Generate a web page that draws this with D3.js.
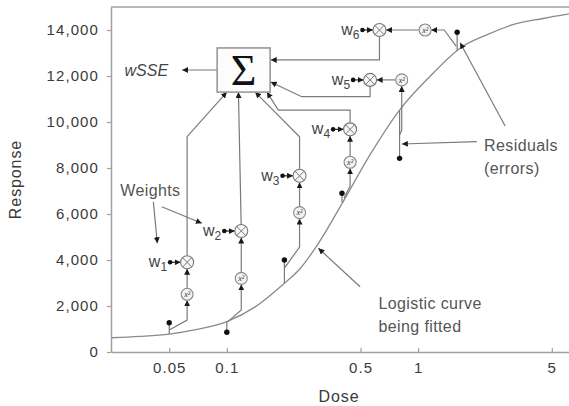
<!DOCTYPE html>
<html>
<head>
<meta charset="utf-8">
<script src="https://cdn.jsdelivr.net/npm/d3@7"></script>
<style>
  body { margin: 0; background: #fff; }
  svg { display: block; font-family: "Liberation Sans", Arial, sans-serif; }
</style>
</head>
<body>
<div id="chart"></div>
<script>
// observed points
const doses = [0.05, 0.1, 0.2, 0.4, 0.8, 1.6];
const responses = [1270, 860, 4000, 6900, 8420, 13900];
const fitted = [780, 1320, 3000, 6500, 10520, 13100]; // curve value under each point
const weightIds = ["1", "2", "3", "4", "5", "6"];

// logistic curve
const curveDoses = [0.025, 0.035, 0.05, 0.07, 0.1, 0.14, 0.2, 0.24, 0.3, 0.4, 0.56, 0.8, 1.15, 1.7, 2.3, 3.1, 4.5, 6.15];
const curveResponses = [620, 680, 780, 980, 1320, 1950, 2990, 3600, 4700, 6450, 8570, 10520, 11970, 13270, 13800, 14220, 14500, 14700];

const xTicks = [0.05, 0.1, 0.5, 1, 5];
const yTicks = [0, 2000, 4000, 6000, 8000, 10000, 12000, 14000];

// schematic of the weighted SSE, in dose / response units
const flows = [
  {branch: [[0.05, 960], [0.062, 1390]], sq: [0.062, 2510], mult: [0.062, 3900],
   link: [[0.062, 9360], [0.1, 11300]]},
  {branch: [[0.101, 1310], [0.119, 1830]], sq: [0.119, 3200], mult: [0.119, 5260],
   link: [[0.115, 11300]]},
  {branch: [[0.2, 3650], [0.24, 4560]], sq: [0.24, 6060], mult: [0.24, 7660],
   link: [[0.24, 9360], [0.1406, 11300]]},
  {branch: [[0.41, 6700], [0.441, 7220]], sq: [0.441, 8250], mult: [0.441, 9680],
   link: [[0.441, 10520], [0.186, 10520], [0.162, 11300]]},
  {branch: [[0.8, 9430], [0.821, 9650]], sq: [0.821, 11830], mult: [0.561, 11830],
   link: [[0.561, 11100], [0.2466, 11100], [0.1695, 11740]]},
  {branch: [[1.58, 13300], [1.37, 14000]], sq: [1.088, 14000], mult: [0.628, 14000],
   link: [[0.628, 12700], [0.1695, 12700]]}
];
const sumBox = {dose: [0.089, 0.1684], response: [11300, 13220]};

const width = 569, height = 406;
const x = d3.scaleLog().domain([0.0248, 6.15]).range([111, 569]);
const y = d3.scaleLinear().domain([0, 15000]).range([352, 7]);

const svg = d3.select("#chart").append("svg")
  .attr("width", width)
  .attr("height", height);

svg.append("defs").append("marker")
  .attr("id", "arrow")
  .attr("viewBox", "0 0 10 10")
  .attr("refX", 10).attr("refY", 5)
  .attr("markerWidth", 6).attr("markerHeight", 6)
  .attr("markerUnits", "userSpaceOnUse")
  .attr("orient", "auto")
  .append("path").attr("d", "M0,0L10,5L0,10z").attr("fill", "#1a1a1a");

const axisColor = "#a0a0a0";
const lineColor = "#7a7a7a";

// axes
const gy = svg.append("g")
  .attr("transform", "translate(111,0)")
  .call(d3.axisLeft(y).tickValues(yTicks).tickFormat(d3.format(",")).tickSize(4).tickSizeOuter(0).tickPadding(8));
const gx = svg.append("g")
  .attr("transform", "translate(0,352)")
  .call(d3.axisBottom(x).tickValues(xTicks).tickFormat(d => String(d)).tickSizeInner(-4).tickSizeOuter(0).tickPadding(10));

[gx, gy].forEach(g => {
  g.select(".domain").attr("stroke", axisColor).attr("stroke-width", 1.5);
  g.selectAll(".tick line").attr("stroke", axisColor).attr("stroke-width", 1.2);
  g.selectAll(".tick text")
    .attr("fill", "#3a3a3a")
    .style("font-size", "15px")
    .style("letter-spacing", "1.1px");
});

// top frame line
svg.append("line")
  .attr("x1", x.range()[0]).attr("x2", x.range()[1])
  .attr("y1", y.range()[1]).attr("y2", y.range()[1])
  .attr("stroke", axisColor).attr("stroke-width", 1.5);

svg.append("text")
  .attr("transform", `translate(15,${(y.range()[0] + y.range()[1]) / 2}) rotate(-90)`)
  .attr("text-anchor", "middle").attr("dy", "0.35em")
  .attr("fill", "#3a3a3a").style("font-size", "16px").style("letter-spacing", "0.9px")
  .text("Response");

svg.append("text")
  .attr("x", 339).attr("y", 396).attr("dy", "0.35em")
  .attr("text-anchor", "middle")
  .attr("fill", "#3a3a3a").style("font-size", "16px").style("letter-spacing", "0.9px")
  .text("Dose");

// fitted curve
const curve = d3.zip(curveDoses, curveResponses);
svg.append("path")
  .datum(curve)
  .attr("fill", "none")
  .attr("stroke", "#8a8a8a")
  .attr("stroke-width", 1.3)
  .attr("d", d3.line().x(d => x(d[0])).y(d => y(d[1])).curve(d3.curveMonotoneX));

const px = p => [x(p[0]), y(p[1])];
function edge(c, toward, r) {
  const dx = toward[0] - c[0], dy = toward[1] - c[1];
  const len = Math.hypot(dx, dy) || 1;
  return [c[0] + dx / len * r, c[1] + dy / len * r];
}
const rSq = 6, rMul = 6.5;
const poly = d3.line();

const diag = svg.append("g").attr("fill", "none").attr("stroke", lineColor).attr("stroke-width", 1.2);

flows.forEach((f, i) => {
  const b0 = px(f.branch[0]), b1 = px(f.branch[1]);
  const sq = px(f.sq), mult = px(f.mult);
  const link = f.link.map(px);

  // residual
  diag.append("line")
    .attr("x1", x(doses[i])).attr("x2", x(doses[i]))
    .attr("y1", y(responses[i])).attr("y2", y(fitted[i]));

  // residual -> square
  diag.append("path")
    .attr("d", poly([b0, b1, edge(sq, b1, rSq)]))
    .attr("marker-end", "url(#arrow)");

  // square -> multiply
  diag.append("path")
    .attr("d", poly([edge(sq, mult, rSq), edge(mult, sq, rMul)]))
    .attr("marker-end", "url(#arrow)");

  // multiply -> sum
  diag.append("path")
    .attr("d", poly([edge(mult, link[0], rMul), ...link]))
    .attr("marker-end", "url(#arrow)");

  // weight
  const wx = mult[0] - 17;
  diag.append("path")
    .attr("d", poly([[wx, mult[1]], [mult[0] - rMul, mult[1]]]))
    .attr("stroke", "#222")
    .attr("marker-end", "url(#arrow)");
  svg.append("circle").attr("cx", wx).attr("cy", mult[1]).attr("r", 2.3).attr("fill", "#111");
  const wt = svg.append("text")
    .attr("x", wx - 3).attr("y", mult[1]).attr("dy", "0.3em")
    .attr("text-anchor", "end").attr("fill", "#444")
    .style("font-size", "16px");
  wt.append("tspan").text("w");
  wt.append("tspan").attr("dy", 4).style("font-size", "12px").text(weightIds[i]);

  // square node
  svg.append("circle").attr("cx", sq[0]).attr("cy", sq[1]).attr("r", rSq)
    .attr("fill", "#f2f2f2").attr("stroke", "#888").attr("stroke-width", 1.1);
  svg.append("text").attr("x", sq[0]).attr("y", sq[1]).attr("dy", "0.35em")
    .attr("text-anchor", "middle").attr("fill", "#333")
    .style("font-family", "'Liberation Serif', serif").style("font-style", "italic")
    .style("font-size", "8px").text("x²");

  // multiply node
  svg.append("circle").attr("cx", mult[0]).attr("cy", mult[1]).attr("r", rMul)
    .attr("fill", "#f6f6f6").attr("stroke", "#777").attr("stroke-width", 1.1);
  const k = rMul * 0.7;
  svg.append("path")
    .attr("d", `M${mult[0] - k},${mult[1] - k}L${mult[0] + k},${mult[1] + k}M${mult[0] - k},${mult[1] + k}L${mult[0] + k},${mult[1] - k}`)
    .attr("stroke", "#777").attr("stroke-width", 1);
});

// observed points
svg.append("g").selectAll("circle")
  .data(d3.zip(doses, responses))
  .join("circle")
  .attr("cx", d => x(d[0])).attr("cy", d => y(d[1]))
  .attr("r", 2.7).attr("fill", "#111");

// sum box
const bx0 = x(sumBox.dose[0]), bx1 = x(sumBox.dose[1]);
const by0 = y(sumBox.response[1]), by1 = y(sumBox.response[0]);
svg.append("rect")
  .attr("x", bx0).attr("y", by0).attr("width", bx1 - bx0).attr("height", by1 - by0)
  .attr("fill", "#fcfcfc").attr("stroke", "#999").attr("stroke-width", 1.6);
svg.append("text")
  .attr("x", (bx0 + bx1) / 2).attr("y", (by0 + by1) / 2).attr("dy", "0.34em")
  .attr("text-anchor", "middle").attr("fill", "#111")
  .style("font-family", "'Liberation Serif', serif").style("font-size", "44px")
  .text("Σ");

// wSSE output
diag.append("path")
  .attr("d", poly([[bx0, (by0 + by1) / 2], [x(0.0584), (by0 + by1) / 2]]))
  .attr("marker-end", "url(#arrow)");
svg.append("text")
  .attr("x", x(0.0493)).attr("y", (by0 + by1) / 2).attr("dy", "0.35em")
  .attr("text-anchor", "end").attr("fill", "#444")
  .style("font-size", "16px").style("font-style", "italic")
  .text("wSSE");

// labels with pointer arrows
const notes = [
  {lines: ["Weights"], at: [0.0277, 7043],
   arrows: [[[0.0413, 6535], [0.0433, 4726]], [[0.0457, 6317], [0.074, 5596]]]},
  {lines: ["Residuals", "(errors)"], at: [2.213, 8970],
   arrows: [[[2.85, 9826], [1.658, 13448]], [[2.026, 9143], [0.822, 9043]]]},
  {lines: ["Logistic curve", "being fitted"], at: [0.62, 2117],
   arrows: [[[0.4974, 2839], [0.3012, 4509]]]}
];
notes.forEach(n => {
  n.arrows.forEach(a => {
    diag.append("path").attr("d", poly(a.map(px))).attr("marker-end", "url(#arrow)");
  });
  const t = svg.append("text")
    .attr("x", x(n.at[0])).attr("y", y(n.at[1])).attr("dy", "0.35em")
    .attr("fill", "#555").style("font-size", "16px").style("letter-spacing", "0.4px");
  n.lines.forEach((l, j) => {
    t.append("tspan").attr("x", x(n.at[0])).attr("dy", j === 0 ? "0.35em" : "1.45em").text(l);
  });
});
</script>
</body>
</html>
